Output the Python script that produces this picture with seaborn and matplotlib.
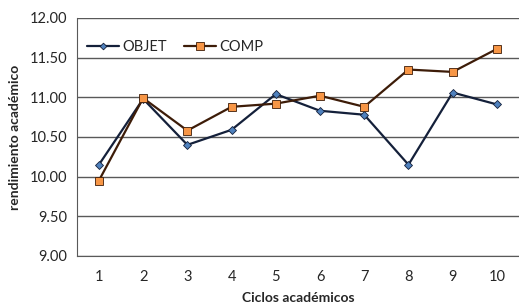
import matplotlib
matplotlib.use("Agg")
import matplotlib.pyplot as plt
import pandas as pd
import seaborn as sns

ciclos = [1, 2, 3, 4, 5, 6, 7, 8, 9, 10]
objet = [10.15, 10.98, 10.40, 10.59, 11.04, 10.83, 10.78, 10.15, 11.06, 10.91]
comp = [9.95, 10.99, 10.58, 10.88, 10.92, 11.02, 10.88, 11.35, 11.32, 11.61]
y_ticks = [9.0, 9.5, 10.0, 10.5, 11.0, 11.5, 12.0]

df = pd.DataFrame({
    "ciclo": ciclos * 2,
    "valor": objet + comp,
    "serie": ["OBJET"] * len(ciclos) + ["COMP"] * len(ciclos),
})

sns.set_style("white")
plt.rcParams["font.family"] = ["Lato", "DejaVu Sans"]

fig = plt.figure(figsize=(5.19, 3.05), dpi=100)
ax = fig.add_axes([0.148, 0.161, 0.852, 0.780])

line_colors = {"OBJET": "#14203a", "COMP": "#3d1c08"}
face_colors = {"OBJET": "#4f81bd", "COMP": "#f79646"}
markers = {"OBJET": "D", "COMP": "s"}
sizes = {"OBJET": 4, "COMP": 6}

for name in ["OBJET", "COMP"]:
    sub = df[df["serie"] == name]
    sns.lineplot(data=sub, x="ciclo", y="valor", ax=ax, color=line_colors[name],
                 linewidth=1.6, marker=markers[name], markersize=sizes[name],
                 markerfacecolor=face_colors[name], markeredgecolor=line_colors[name],
                 markeredgewidth=0.6, label=name)

ax.set_xlim(0.5, 10.5)
ax.set_ylim(9.0, 12.0)
ax.set_xticks(ciclos)
ax.set_yticks(y_ticks)
ax.set_yticklabels([f"{v:.2f}" for v in y_ticks])
ax.yaxis.grid(True, color="#595959", linewidth=1.0)
ax.xaxis.grid(False)
for side in ["top", "right"]:
    ax.spines[side].set_visible(False)
ax.spines["left"].set_color("#595959")
ax.spines["bottom"].set_color("#595959")
ax.tick_params(axis="y", length=4, color="#595959", labelsize=10.5, pad=3)
ax.tick_params(axis="x", length=0, labelsize=10.5, pad=10)

ax.set_xlabel("Ciclos académicos", fontsize=10, fontweight="bold", labelpad=6)
ax.set_ylabel("rendimiento académico", fontsize=10, fontweight="bold", labelpad=6)

ax.legend(loc="upper left", bbox_to_anchor=(0.0, 0.95), ncol=2, frameon=False,
          fontsize=10.5, handlelength=2.2, handletextpad=0.2, columnspacing=1.2,
          borderaxespad=0.3, markerscale=0.85)

fig.savefig("out.png", dpi=100)
